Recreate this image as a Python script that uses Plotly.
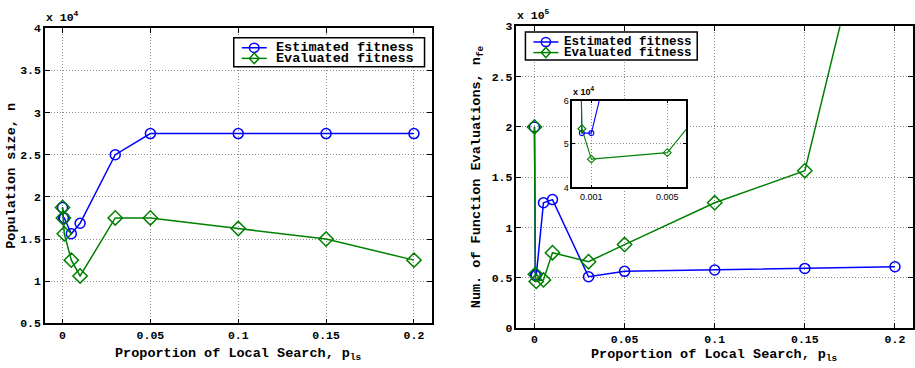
import plotly.graph_objects as go

# ---- data ----
p_ls = [0, 0.0005, 0.001, 0.005, 0.01, 0.03, 0.05, 0.1, 0.15, 0.2]

pop_estimated = [18750, 17500, 17500, 15625, 16875, 25000, 27500, 27500, 27500, 27500]
pop_evaluated = [18750, 17500, 15625, 12500, 10625, 17500, 17500, 16250, 15000, 12500]

nfe_estimated = [200000, 52500, 52500, 124600, 127800, 51100, 56500, 57800, 59400, 61000]
nfe_evaluated = [200000, 53500, 46500, 48000, 75000, 66100, 83100, 124600, 156500, 525000]

series_names = ["Estimated fitness", "Evaluated fitness"]

x_ticks = [0, 0.05, 0.1, 0.15, 0.2]
x_ticktext = ["0", "0.05", "0.1", "0.15", "0.2"]
pop_ticks = [5000, 10000, 15000, 20000, 25000, 30000, 35000, 40000]
pop_ticktext = ["0.5", "1", "1.5", "2", "2.5", "3", "3.5", "4"]
nfe_ticks = [0, 50000, 100000, 150000, 200000, 250000, 300000]
nfe_ticktext = ["0", "0.5", "1", "1.5", "2", "2.5", "3"]
inset_xticks = [0.001, 0.005]
inset_xticktext = ["0.001", "0.005"]
inset_yticks = [40000, 50000, 60000]
inset_yticktext = ["4", "5", "6"]

BLUE = "#0000ff"
GREEN = "#008000"
MONO = "Liberation Mono"
SANS = "Liberation Sans"
W, H = 915, 368

fig = go.Figure()


def add_pair(est, evl, xa, ya, msize, lw):
    fig.add_trace(go.Scatter(
        x=p_ls, y=est, mode="lines+markers", name=series_names[0],
        line=dict(color=BLUE, width=lw),
        marker=dict(symbol="circle-open", size=msize, color=BLUE, line=dict(width=lw)),
        xaxis=xa, yaxis=ya, showlegend=False))
    fig.add_trace(go.Scatter(
        x=p_ls, y=evl, mode="lines+markers", name=series_names[1],
        line=dict(color=GREEN, width=lw),
        marker=dict(symbol="diamond-open", size=msize + 1, color=GREEN, line=dict(width=lw)),
        xaxis=xa, yaxis=ya, showlegend=False))


add_pair(pop_estimated, pop_evaluated, "x", "y", 10, 1.5)
add_pair(nfe_estimated, nfe_evaluated, "x2", "y2", 10, 1.5)
add_pair(nfe_estimated, nfe_evaluated, "x3", "y3", 5, 1.1)

axis_common = dict(
    showline=True, linecolor="black", linewidth=1.5, mirror="ticks",
    ticks="inside", ticklen=5, tickcolor="black", tickwidth=1,
    showgrid=True, gridcolor="#8c8c8c", griddash="1px,2px", gridwidth=1,
    zeroline=False, tickfont=dict(family=MONO, size=11.5, color="black", weight="bold"),
)
inset_common = {**axis_common, "ticklen": 3,
                "tickfont": dict(family=SANS, size=9, color="black", weight="normal")}

fig.update_layout(
    width=W, height=H,
    margin=dict(l=0, r=0, t=0, b=0),
    paper_bgcolor="white", plot_bgcolor="white",
    font=dict(family=MONO, color="black", weight="bold"),
    showlegend=False,
    xaxis=dict(domain=[45 / W, 432 / W], range=[-0.01, 0.21], tickvals=x_ticks,
               ticktext=x_ticktext, anchor="y", **axis_common),
    yaxis=dict(domain=[1 - 329 / H, 1 - 23 / H], range=[5000, 40000], tickvals=pop_ticks,
               ticktext=pop_ticktext, anchor="x", **axis_common),
    xaxis2=dict(domain=[517 / W, 914 / W], range=[-0.01, 0.21], tickvals=x_ticks,
                ticktext=x_ticktext, anchor="y2", ticklabelstandoff=-1, **axis_common),
    yaxis2=dict(domain=[1 - 334 / H, 1 - 21 / H], range=[0, 300000], tickvals=nfe_ticks,
                ticktext=nfe_ticktext, anchor="x2", **axis_common),
    xaxis3=dict(domain=[573 / W, 687 / W], range=[0, 0.006], tickvals=inset_xticks,
                ticktext=inset_xticktext, anchor="y3", **inset_common),
    yaxis3=dict(domain=[1 - 188 / H, 1 - 98 / H], range=[40000, 60000], tickvals=inset_yticks,
                ticktext=inset_yticktext, anchor="x3", **inset_common),
)


# ---- manual legends (box, line samples, marker glyphs, real text) ----
def px(x):
    return x / W


def py(y):
    return 1 - y / H


def legend_box(x0, y0, x1, y1, rows, line_x0, line_x1, text_x, fsize, r):
    fig.add_shape(type="rect", xref="paper", yref="paper", x0=px(x0), x1=px(x1),
                  y0=py(y1), y1=py(y0), line=dict(color="black", width=1.5),
                  fillcolor="white", layer="above")
    mx = (line_x0 + line_x1) / 2
    for i, (ry, color) in enumerate(zip(rows, [BLUE, GREEN])):
        fig.add_shape(type="line", xref="paper", yref="paper", x0=px(line_x0), x1=px(line_x1),
                      y0=py(ry), y1=py(ry), line=dict(color=color, width=1.5), layer="above")
        if i == 0:
            fig.add_shape(type="circle", xref="paper", yref="paper",
                          x0=px(mx - r), x1=px(mx + r), y0=py(ry + r), y1=py(ry - r),
                          line=dict(color=color, width=1.5), fillcolor="rgba(0,0,0,0)",
                          layer="above")
        else:
            d = r * 1.15
            path = (f"M {px(mx)},{py(ry - d)} L {px(mx + r)},{py(ry)} "
                    f"L {px(mx)},{py(ry + d)} L {px(mx - r)},{py(ry)} Z")
            fig.add_shape(type="path", xref="paper", yref="paper", path=path,
                          line=dict(color=color, width=1.5), layer="above")
        fig.add_annotation(text=series_names[i], x=px(text_x), y=py(ry), xref="paper",
                           yref="paper", showarrow=False, xanchor="left", yanchor="middle",
                           borderpad=0,
                           font=dict(family=MONO, size=fsize, color="black", weight="bold"))


legend_box(234, 33, 425, 63, [43.3, 54.3], 242, 267, 275, 13.5, 4.8)
legend_box(526, 27, 698, 56, [37.3, 48.3], 534, 559, 564, 12.5, 4.6)

ann_font = dict(family=MONO, size=13.5, color="black", weight="bold")
fig.add_annotation(text="Proportion of Local Search, p<sub>ls</sub>", x=px(238.5), y=py(361),
                   xref="paper", yref="paper", showarrow=False, xanchor="center",
                   yanchor="middle", font=ann_font)
fig.add_annotation(text="Proportion of Local Search, p<sub>ls</sub>", x=px(715.5), y=py(362.5),
                   xref="paper", yref="paper", showarrow=False, xanchor="center",
                   yanchor="middle", font=ann_font)
fig.add_annotation(text="Population size, n", x=px(12), y=py(176), textangle=-90,
                   xref="paper", yref="paper", showarrow=False, xanchor="center",
                   yanchor="middle", font=ann_font)
fig.add_annotation(text="Num. of Function Evaluations, n<sub>fe</sub>", x=px(478), y=py(177),
                   textangle=-90, xref="paper", yref="paper", showarrow=False,
                   xanchor="center", yanchor="middle", font=ann_font)

exp_font = dict(family=MONO, size=11.5, color="black", weight="bold")
fig.add_annotation(text="x 10<sup>4</sup>", x=px(44), y=py(21), xref="paper", yref="paper",
                   showarrow=False, xanchor="left", yanchor="bottom", font=exp_font)
fig.add_annotation(text="x 10<sup>5</sup>", x=px(516), y=py(19), xref="paper", yref="paper",
                   showarrow=False, xanchor="left", yanchor="bottom", font=exp_font)
fig.add_annotation(text="x 10<sup>4</sup>", x=px(572), y=py(96), xref="paper", yref="paper",
                   showarrow=False, xanchor="left", yanchor="bottom",
                   font=dict(family=SANS, size=9, color="black"))

fig.write_html("out.html", config={"displayModeBar": False},
               post_script="document.body.style.margin='0';")
